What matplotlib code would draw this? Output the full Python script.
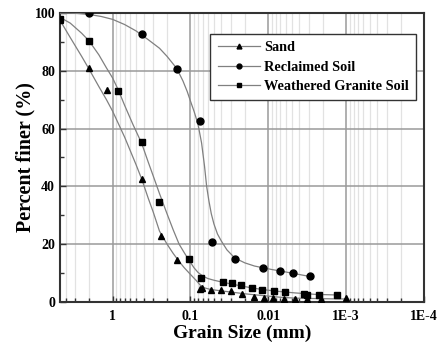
import numpy as np
import matplotlib.pyplot as plt
from matplotlib.lines import Line2D
from matplotlib.ticker import FixedLocator, FixedFormatter, NullFormatter

plt.rcParams['font.family'] = ['Liberation Serif', 'DejaVu Serif']
plt.rcParams['font.weight'] = 'bold'

# measured points: grain size (mm) / percent finer (%)
sand_d = [4.75, 2.0, 1.18, 0.425, 0.242, 0.148, 0.0754, 0.0705, 0.0549, 0.0404,
          0.0303, 0.0218, 0.0155, 0.0115, 0.00881, 0.00635, 0.00458, 0.00317,
          0.00213, 0.00101]
sand_p = [97.5, 80.8, 73.4, 42.5, 22.7, 14.5, 4.6, 4.9, 4.1, 4.1,
          3.8, 2.7, 1.8, 1.5, 1.3, 0.9, 0.9, 0.9,
          0.9, 1.2]

recl_d = [2.0, 0.425, 0.15, 0.075, 0.0533, 0.0267, 0.0116, 0.0070, 0.00486, 0.00293]
recl_p = [100, 92.7, 80.6, 62.7, 20.8, 14.8, 11.7, 10.8, 9.9, 8.8]

gran_d = [4.75, 2.0, 0.85, 0.425, 0.25, 0.1046, 0.0741, 0.0384, 0.0294, 0.0223,
          0.0161, 0.0121, 0.00855, 0.00604, 0.00351, 0.00317, 0.00224, 0.00133]
gran_p = [98.0, 90.3, 73.1, 55.5, 34.6, 14.9, 8.2, 7.0, 6.5, 5.7,
          4.8, 4.2, 3.8, 3.4, 2.7, 2.4, 2.4, 2.4]

# fitted curves traced along each series
sand_fit_d = [4.75, 3.5, 2.5, 2.0, 1.5, 1.2, 1.0, 0.7, 0.5, 0.42, 0.35, 0.3,
              0.25, 0.2, 0.167, 0.14, 0.12, 0.1, 0.085, 0.075, 0.065, 0.055,
              0.04, 0.03, 0.02, 0.012, 0.007, 0.0045, 0.002, 0.001]
sand_fit_p = [97.5, 91.5, 85.0, 80.5, 74.5, 70.0, 66.0, 57.0, 47.5, 42.3, 36.0, 31.0,
              24.5, 20.0, 16.8, 14.0, 11.8, 9.5, 7.5, 5.8, 4.8, 4.3,
              3.8, 3.4, 2.8, 2.2, 1.6, 1.3, 1.1, 1.0]

recl_fit_d = [4.75, 3.0, 2.0, 1.4, 1.0, 0.7, 0.5, 0.35, 0.25, 0.2, 0.15, 0.125,
              0.11, 0.1, 0.09, 0.08, 0.072, 0.066, 0.062, 0.058, 0.054, 0.05,
              0.045, 0.04, 0.034, 0.027, 0.02, 0.015, 0.0116, 0.009, 0.007,
              0.00486, 0.00293]
recl_fit_p = [100.0, 99.9, 99.5, 98.8, 97.8, 96.0, 93.8, 90.8, 87.8, 85.0, 80.8, 76.5,
              72.8, 69.5, 66.0, 61.5, 55.0, 47.0, 40.0, 35.0, 30.5, 27.0,
              23.5, 21.0, 18.0, 15.2, 13.5, 12.4, 11.8, 11.2, 10.7,
              9.9, 8.8]

gran_fit_d = [4.75, 3.5, 2.5, 2.0, 1.5, 1.2, 1.0, 0.85, 0.7, 0.55, 0.425, 0.35,
              0.3, 0.25, 0.2, 0.167, 0.14, 0.12, 0.105, 0.09, 0.08, 0.07, 0.06,
              0.05, 0.04, 0.03, 0.022, 0.016, 0.012, 0.0085, 0.006, 0.0045,
              0.0035, 0.0025, 0.00133]
gran_fit_p = [98.5, 96.5, 93.0, 90.3, 85.5, 81.0, 77.5, 73.5, 68.0, 61.5, 55.0, 48.5,
              43.5, 37.5, 30.5, 25.0, 20.0, 17.0, 14.5, 11.8, 10.2, 9.0, 8.1,
              7.5, 6.9, 6.2, 5.5, 4.8, 4.3, 3.8, 3.4, 3.1,
              2.9, 2.6, 2.4]

x_ticks = [1, 0.1, 0.01, 1e-3, 1e-4]
x_labels = ['1', '0.1', '0.01', '1E-3', '1E-4']
y_ticks = [0, 20, 40, 60, 80, 100]

fig = plt.figure(figsize=(4.44, 3.47), dpi=100)
ax = fig.add_axes([0.135, 0.13, 0.82, 0.8325])

line_c = '#808080'
ax.plot(sand_fit_d, sand_fit_p, color=line_c, lw=0.9, zorder=3)
ax.plot(recl_fit_d, recl_fit_p, color=line_c, lw=0.9, zorder=3)
ax.plot(gran_fit_d, gran_fit_p, color=line_c, lw=0.9, zorder=3)

ax.plot(sand_d, sand_p, '^', color='k', ms=5, ls='none', zorder=4)
ax.plot(recl_d, recl_p, 'o', color='k', ms=5, ls='none', zorder=4)
ax.plot(gran_d, gran_p, 's', color='k', ms=4.5, ls='none', zorder=4)

ax.set_xscale('log')
ax.set_xlim(4.75, 1e-4)
ax.set_ylim(0, 100)

ax.xaxis.set_major_locator(FixedLocator(x_ticks))
ax.xaxis.set_major_formatter(FixedFormatter(x_labels))
minor = [m * 10.0 ** e for e in range(-4, 1) for m in range(2, 10)] + [3, 4]
ax.xaxis.set_minor_locator(FixedLocator(sorted(set(minor))))
ax.xaxis.set_minor_formatter(NullFormatter())
ax.set_yticks(y_ticks)
ax.set_yticks([10, 30, 50, 70, 90], minor=True)

ax.grid(True, which='major', color='#9a9a9a', lw=1.1)
ax.grid(True, which='minor', axis='x', color='#e2e2e2', lw=0.9)
ax.set_axisbelow(True)

ax.tick_params(which='both', direction='in', labelsize=10, width=1.0, color='#333333')
ax.tick_params(which='major', length=4)
ax.tick_params(which='minor', length=3)
ax.tick_params(axis='x', pad=6)
for s in ax.spines.values():
    s.set_linewidth(1.5)
    s.set_color('#333333')
for lab in ax.get_xticklabels() + ax.get_yticklabels():
    lab.set_fontweight('bold')

ax.set_xlabel('Grain Size (mm)', fontsize=14, fontweight='bold', labelpad=1)
ax.set_ylabel('Percent finer (%)', fontsize=14.5, fontweight='bold', labelpad=-1)

handles = [
    Line2D([], [], color=line_c, lw=0.9, marker='^', mfc='k', mec='k', ms=3.5),
    Line2D([], [], color=line_c, lw=0.9, marker='o', mfc='k', mec='k', ms=3.5),
    Line2D([], [], color=line_c, lw=0.9, marker='s', mfc='k', mec='k', ms=3),
]
leg = ax.legend(handles, ['Sand', 'Reclaimed Soil', 'Weathered Granite Soil'],
                loc='upper right', bbox_to_anchor=(0.978, 0.927), borderaxespad=0,
                fancybox=False, framealpha=1, edgecolor='#333333',
                prop={'weight': 'bold', 'size': 10.3}, handlelength=2.95,
                labelspacing=0.45, borderpad=0.5, handletextpad=0.3)
leg.get_frame().set_linewidth(1.0)

fig.savefig('out.png', dpi=100)
